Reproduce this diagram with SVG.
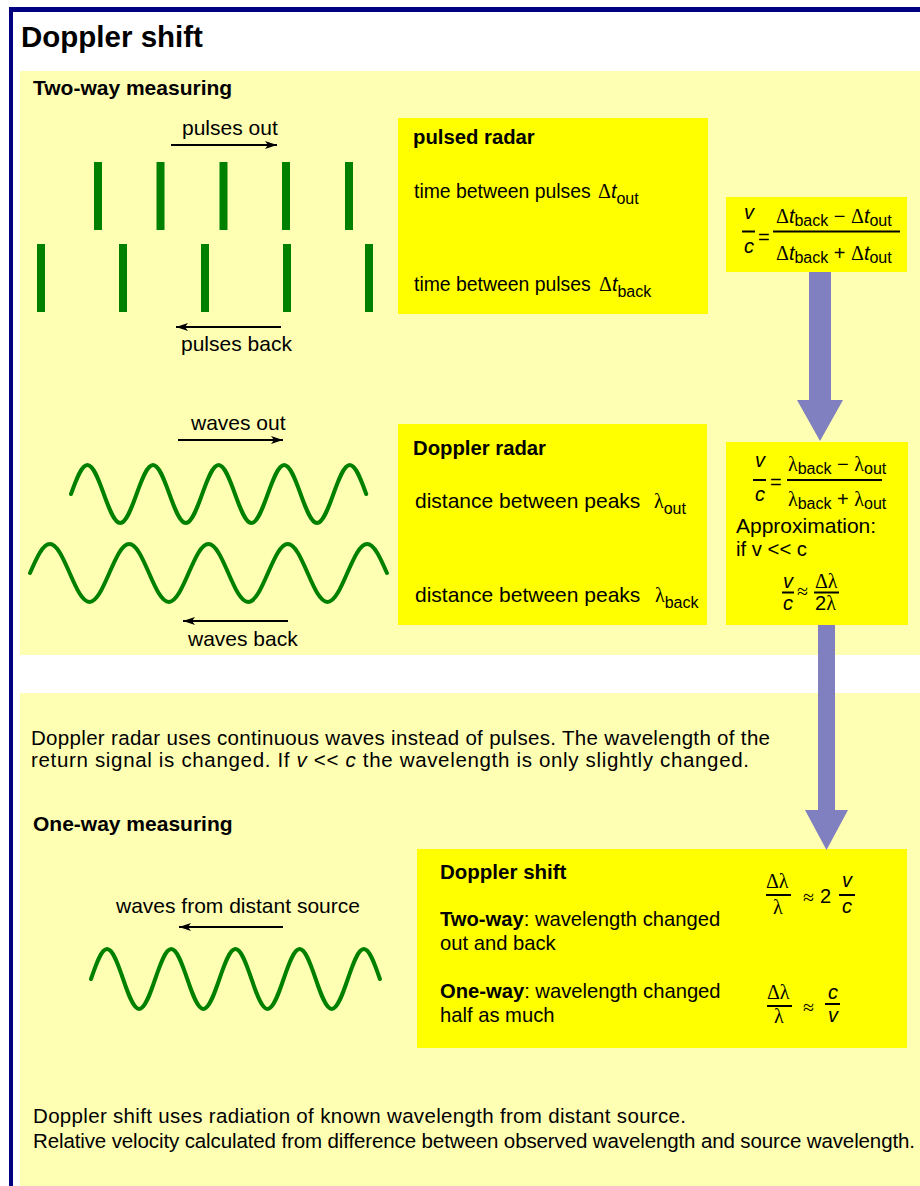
<svg xmlns="http://www.w3.org/2000/svg" width="920" height="1186" viewBox="0 0 920 1186">
<style>
.t{font-family:"Liberation Sans",Arial,Helvetica,sans-serif;font-size:20px;fill:#000}
.l{font-size:21px}
.b{font-weight:bold}
.i{font-style:italic}
.g{font-family:"Liberation Serif","Times New Roman",serif}
.sub{font-size:16px}
.panel{fill:#FFFFB3}
.box{fill:#FFFF00}
.bar{fill:#008000}
.wave{fill:none;stroke:#008000;stroke-width:4;stroke-linecap:round}
.fl{stroke:#000;stroke-width:2}
.sa{stroke:#000;stroke-width:2;fill:none;marker-end:url(#ah)}
.big{fill:#8080C0}
</style>
<defs>
<marker id="ah" markerUnits="userSpaceOnUse" markerWidth="14" markerHeight="10" refX="12" refY="5" orient="auto">
<path d="M0,1 L12,5 L0,9 L3,5 z" fill="#000"/>
</marker>
</defs>
<rect x="0" y="0" width="920" height="1186" fill="#fff"/>
<g id="frame">
<rect x="9" y="7" width="911" height="5" fill="#000080"/>
<rect x="9" y="7" width="4" height="1179" fill="#000080"/>
</g>
<g id="title"><text class="t b" x="21" y="47" style="font-size:29.5px">Doppler shift</text></g>
<g id="panel-two-way">
<rect class="panel" x="20" y="71" width="900" height="584"/>
<text class="t l b" x="33" y="95">Two-way measuring</text>
</g>
<g id="panel-one-way">
<rect class="panel" x="20" y="693" width="900" height="493"/>
<text class="t" x="31" y="745" style="font-size:20.5px" textLength="739">Doppler radar uses continuous waves instead of pulses. The wavelength of the</text>
<text class="t" x="31" y="767" style="font-size:20.5px" textLength="718">return signal is changed. If <tspan class="i">v</tspan> &lt;&lt; <tspan class="i">c</tspan> the wavelength is only slightly changed.</text>
<text class="t l b" x="33" y="831">One-way measuring</text>
<text class="t" x="33" y="1123" style="font-size:20.5px" textLength="653">Doppler shift uses radiation of known wavelength from distant source.</text>
<text class="t" x="33" y="1148" style="font-size:20.5px" textLength="882">Relative velocity calculated from difference between observed wavelength and source wavelength.</text>
</g>
<g id="pulses-out">
<text class="t l" x="182" y="135">pulses out</text>
<rect class="bar" x="94" y="162" width="8" height="68"/>
<rect class="bar" x="156.5" y="162" width="8" height="68"/>
<rect class="bar" x="219.5" y="162" width="8" height="68"/>
<rect class="bar" x="282" y="162" width="8" height="68"/>
<rect class="bar" x="345" y="162" width="8" height="68"/>
</g>
<g id="pulses-back">
<rect class="bar" x="37" y="244" width="8" height="68"/>
<rect class="bar" x="119" y="244" width="8" height="68"/>
<rect class="bar" x="201" y="244" width="8" height="68"/>
<rect class="bar" x="283" y="244" width="8" height="68"/>
<rect class="bar" x="365" y="244" width="8" height="68"/>
<text class="t l" x="181" y="351">pulses back</text>
</g>
<g id="waves-out">
<text class="t l" x="191" y="430">waves out</text>
<path class="wave" d="M71,494 c5.35,-14.86 10.47,-29 16.4,-29 s11.05,14.14 16.4,29 s10.47,29 16.4,29 s11.05,-14.14 16.4,-29 s10.47,-29 16.4,-29 s11.05,14.14 16.4,29 s10.47,29 16.4,29 s11.05,-14.14 16.4,-29 s10.47,-29 16.4,-29 s11.05,14.14 16.4,29 s10.47,29 16.4,29 s11.05,-14.14 16.4,-29 s10.47,-29 16.4,-29 s11.05,14.14 16.4,29 s10.47,29 16.4,29 s11.05,-14.14 16.4,-29 s10.47,-29 16.4,-29 s11.05,14.14 16.4,29"/>
</g>
<g id="waves-back">
<path class="wave" d="M30,573 c6.47,-14.86 12.65,-29 19.83,-29 s13.36,14.14 19.83,29 s12.65,29 19.83,29 s13.36,-14.14 19.83,-29 s12.65,-29 19.83,-29 s13.36,14.14 19.83,29 s12.65,29 19.83,29 s13.36,-14.14 19.83,-29 s12.65,-29 19.83,-29 s13.36,14.14 19.83,29 s12.65,29 19.83,29 s13.36,-14.14 19.83,-29 s12.65,-29 19.83,-29 s13.36,14.14 19.83,29 s12.65,29 19.83,29 s13.36,-14.14 19.83,-29 s12.65,-29 19.83,-29 s13.36,14.14 19.83,29"/>
<text class="t l" x="188" y="646">waves back</text>
</g>
<g id="wave-distant">
<text class="t l" x="116" y="913">waves from distant source</text>
<path class="wave" d="M91,979 c5.23,-15.37 10.24,-30 16.05,-30 s10.82,14.63 16.05,30 s10.24,30 16.05,30 s10.82,-14.63 16.05,-30 s10.24,-30 16.05,-30 s10.82,14.63 16.05,30 s10.24,30 16.05,30 s10.82,-14.63 16.05,-30 s10.24,-30 16.05,-30 s10.82,14.63 16.05,30 s10.24,30 16.05,30 s10.82,-14.63 16.05,-30 s10.24,-30 16.05,-30 s10.82,14.63 16.05,30 s10.24,30 16.05,30 s10.82,-14.63 16.05,-30 s10.24,-30 16.05,-30 s10.82,14.63 16.05,30"/>
</g>
<g id="box-pulsed-radar">
<rect class="box" x="398" y="118" width="310" height="196"/>
<text class="t b" x="413" y="144" style="font-size:20.3px">pulsed radar</text>
<text class="t" x="414" y="198" style="font-size:19.4px">time between pulses</text>
<text class="t" x="598" y="198"><tspan class="g">Δ</tspan><tspan class="i">t</tspan><tspan class="sub" dy="6">out</tspan></text>
<text class="t" x="414" y="291" style="font-size:19.4px">time between pulses</text>
<text class="t" x="599" y="291"><tspan class="g">Δ</tspan><tspan class="i">t</tspan><tspan class="sub" dy="6">back</tspan></text>
</g>
<g id="box-doppler-radar">
<rect class="box" x="398" y="424" width="309" height="201"/>
<text class="t b" x="413" y="455" style="font-size:20.3px">Doppler radar</text>
<text class="t l" x="415" y="508">distance between peaks</text>
<text class="t" x="654" y="508"><tspan class="g">λ</tspan><tspan class="sub" dy="6">out</tspan></text>
<text class="t l" x="415" y="602">distance between peaks</text>
<text class="t" x="655" y="602"><tspan class="g">λ</tspan><tspan class="sub" dy="6">back</tspan></text>
</g>
<g id="formula-pulsed">
<rect class="box" x="726" y="197" width="181" height="75"/>
<text class="t i" x="744" y="219">v</text>
<line class="fl" x1="742" y1="231.5" x2="755" y2="231.5"/>
<text class="t i" x="744" y="253">c</text>
<text class="t" x="758" y="244">=</text>
<line class="fl" x1="773" y1="231.5" x2="900" y2="231.5"/>
<text class="t" x="776" y="223"><tspan class="g">Δ</tspan><tspan class="i">t</tspan><tspan class="sub" dy="3">back</tspan><tspan dy="-3"> − </tspan><tspan class="g">Δ</tspan><tspan class="i">t</tspan><tspan class="sub" dy="3">out</tspan></text>
<text class="t" x="776" y="260"><tspan class="g">Δ</tspan><tspan class="i">t</tspan><tspan class="sub" dy="3">back</tspan><tspan dy="-3"> + </tspan><tspan class="g">Δ</tspan><tspan class="i">t</tspan><tspan class="sub" dy="3">out</tspan></text>
</g>
<g id="formula-doppler">
<rect class="box" x="726" y="442" width="182" height="183"/>
<text class="t i" x="755" y="467">v</text>
<line class="fl" x1="753" y1="480" x2="766" y2="480"/>
<text class="t i" x="755" y="501">c</text>
<text class="t" x="770" y="489">=</text>
<line class="fl" x1="787" y1="480" x2="882" y2="480"/>
<text class="t" x="788" y="471"><tspan class="g">λ</tspan><tspan class="sub" dy="3">back</tspan><tspan dy="-3"> − </tspan><tspan class="g">λ</tspan><tspan class="sub" dy="3">out</tspan></text>
<text class="t" x="788" y="506"><tspan class="g">λ</tspan><tspan class="sub" dy="3">back</tspan><tspan dy="-3"> + </tspan><tspan class="g">λ</tspan><tspan class="sub" dy="3">out</tspan></text>
<text class="t l" x="736" y="533">Approximation:</text>
<text class="t" x="736" y="556" style="font-size:20.3px">if v &lt;&lt; c</text>
<text class="t i" x="783" y="588">v</text>
<line class="fl" x1="782" y1="592.5" x2="794" y2="592.5"/>
<text class="t i" x="783" y="610">c</text>
<text class="t g" x="797" y="598">≈</text>
<text class="t g" x="815" y="588">Δλ</text>
<line class="fl" x1="814" y1="592.5" x2="839" y2="592.5"/>
<text class="t" x="815" y="610">2<tspan class="g">λ</tspan></text>
</g>
<g id="box-doppler-shift">
<rect class="box" x="417" y="849" width="490" height="199"/>
<text class="t b" x="440" y="879" style="font-size:20.5px">Doppler shift</text>
<text class="t" x="440" y="926" style="font-size:20.2px"><tspan class="b">Two-way</tspan>: wavelength changed</text>
<text class="t" x="440" y="950" style="font-size:20.2px">out and back</text>
<text class="t" x="440" y="998" style="font-size:20.2px"><tspan class="b">One-way</tspan>: wavelength changed</text>
<text class="t" x="440" y="1022" style="font-size:20.2px">half as much</text>
<text class="t g" x="766" y="888">Δλ</text>
<line class="fl" x1="766" y1="895" x2="791" y2="895"/>
<text class="t g" x="773" y="914">λ</text>
<text class="t g" x="803" y="904">≈</text>
<text class="t" x="820" y="903">2</text>
<text class="t i" x="842" y="887">v</text>
<line class="fl" x1="839" y1="895" x2="855" y2="895"/>
<text class="t i" x="842" y="913">c</text>
<text class="t g" x="767" y="999">Δλ</text>
<line class="fl" x1="767" y1="1006" x2="792" y2="1006"/>
<text class="t g" x="774" y="1023">λ</text>
<text class="t g" x="803" y="1014">≈</text>
<text class="t i" x="828" y="999">c</text>
<line class="fl" x1="825" y1="1004" x2="840" y2="1004"/>
<text class="t i" x="828" y="1022">v</text>
</g>
<g id="connectors">
<line class="sa" x1="171" y1="145" x2="277" y2="145"/>
<line class="sa" x1="281" y1="327" x2="176" y2="327"/>
<line class="sa" x1="178" y1="440" x2="283" y2="440"/>
<line class="sa" x1="288" y1="621" x2="183" y2="621"/>
<line class="sa" x1="283" y1="927" x2="179" y2="927"/>
<path class="big" d="M809,272 H831 V400 H843 L820,441 L797,400 H809 Z"/>
<path class="big" d="M818,625 H835 V810 H848 L826.5,850 L805,810 H818 Z"/>
</g>
</svg>
